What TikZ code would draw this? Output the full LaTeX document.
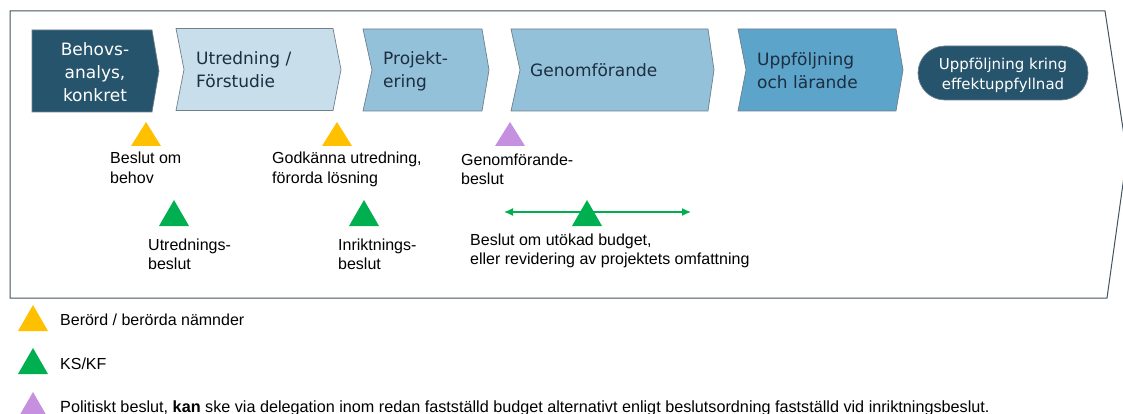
\documentclass[tikz,border=0pt]{standalone}
\usepackage{fontspec}
\setmainfont{Liberation Sans}
\newfontfamily\chevfont{DejaVu Sans}
\usetikzlibrary{arrows.meta}
\definecolor{darkb}{HTML}{26546C}
\definecolor{lightb}{HTML}{C8DEEB}
\definecolor{midb}{HTML}{93C1D9}
\definecolor{strongb}{HTML}{5CA4CA}
\definecolor{navytext}{HTML}{1C2E40}
\definecolor{chevline}{HTML}{6E7F8E}
\definecolor{framec}{HTML}{44535F}
\definecolor{yel}{HTML}{FFC000}
\definecolor{grn}{HTML}{00B050}
\definecolor{pur}{HTML}{C590E0}
\newcommand{\mylines}[2][l]{\begin{tabular}[t]{@{}#1@{}}#2\end{tabular}}
\newcommand{\tri}[4]{\fill[#1] (#2-15,#4) -- (#2+15,#4) -- (#2,#3) -- cycle;}
\begin{document}
\begin{tikzpicture}[x=1pt,y=-1pt,
  chev/.style={draw=chevline, line width=0.7pt},
  ctext/.style={inner sep=0pt, font=\chevfont\fontsize{17}{23}\selectfont, text=navytext},
  lab/.style={inner sep=0pt, anchor=base west, font=\fontsize{16}{19.5}\selectfont},
  effbox/.style={fill=darkb, draw=chevline, line width=0.7pt, rounded corners=27pt, minimum width=170pt, minimum height=54pt, inner sep=0pt}]
\useasboundingbox (0,0) rectangle (1123,414);
\fill[white] (0,0) rectangle (1123,414);
% outer frame
\draw[framec, line width=1pt] (10,11) -- (1105,11) -- (1127,155) -- (1107,298) -- (10,298) -- cycle;
% chevrons
\draw[chev, fill=darkb] (32,30) -- (152,30) -- (159,71) -- (152,112) -- (32,112) -- cycle;
\draw[chev, fill=lightb] (176,28.5) -- (333,28.5) -- (341,69.5) -- (333,110.5) -- (176,110.5) -- (184,69.5) -- cycle;
\draw[chev, fill=midb] (363,29) -- (482,29) -- (489,70) -- (482,111) -- (363,111) -- (372,70) -- cycle;
\draw[chev, fill=midb] (511,29) -- (708,29) -- (714,70) -- (708,111) -- (511,111) -- (520,70) -- cycle;
\draw[chev, fill=strongb] (738,29) -- (896,29) -- (903,70) -- (896,111) -- (738,111) -- (746,70) -- cycle;
\node[effbox] (eff) at (1003,73) {};
% chevron texts
\node[ctext, text=white, anchor=base] (behovs) at (95,56) {\mylines[c]{Behovs-\\analys,\\konkret}};
\node[ctext, anchor=base west] (utr) at (196,65) {\mylines{Utredning /\\Förstudie}};
\node[ctext, anchor=base west] (proj) at (383,65) {\mylines{Projekt-\\ering}};
\node[ctext, anchor=base west] (genom) at (530,77) {Genomförande};
\node[ctext, anchor=base west] (uppf) at (757,66) {\mylines{Uppföljning\\och lärande}};
\node[inner sep=0pt, anchor=base, text=white, font=\chevfont\fontsize{15}{20}\selectfont] (efftxt) at (1003,70) {\mylines[c]{Uppföljning kring\\effektuppfyllnad}};
% triangles
\tri{yel}{146}{122}{146}
\tri{yel}{337}{122}{146}
\tri{pur}{510}{122}{146}
\tri{grn}{174}{200}{226}
\tri{grn}{364}{200}{226}
% arrow
\coordinate (al) at (504,212);
\coordinate (ar) at (691,212);
\draw[grn, line width=1.3pt, {Latex[length=9pt,width=8pt]}-{Latex[length=9pt,width=8pt]}] (al) -- (ar);
\tri{grn}{587}{200}{226}
% labels
\node[lab] (l1) at (110,164) {\mylines{Beslut om\\behov}};
\node[lab] (l2) at (272,164) {\mylines{Godkänna utredning,\\förorda lösning}};
\node[lab] (l3) at (461,165) {\mylines{Genomförande-\\beslut}};
\node[lab] (l4) at (148,250) {\mylines{Utrednings-\\beslut}};
\node[lab] (l5) at (338,250) {\mylines{Inriktnings-\\beslut}};
\node[lab] (l6) at (470,245) {\mylines{Beslut om utökad budget,\\eller revidering av projektets omfattning}};
% legend
\tri{yel}{33}{305}{331}
\tri{grn}{33}{348}{374}
\tri{pur}{33}{392}{418}
\node[lab] (g1) at (60,325) {Berörd / berörda nämnder};
\node[lab] (g2) at (60,369) {KS/KF};
\node[lab, font=\fontsize{16.2}{19.5}\selectfont] (g3) at (60,412) {Politiskt beslut, \textbf{kan} ske via delegation inom redan fastställd budget alternativt enligt beslutsordning fastställd vid inriktningsbeslut.};
\end{tikzpicture}
\end{document}
